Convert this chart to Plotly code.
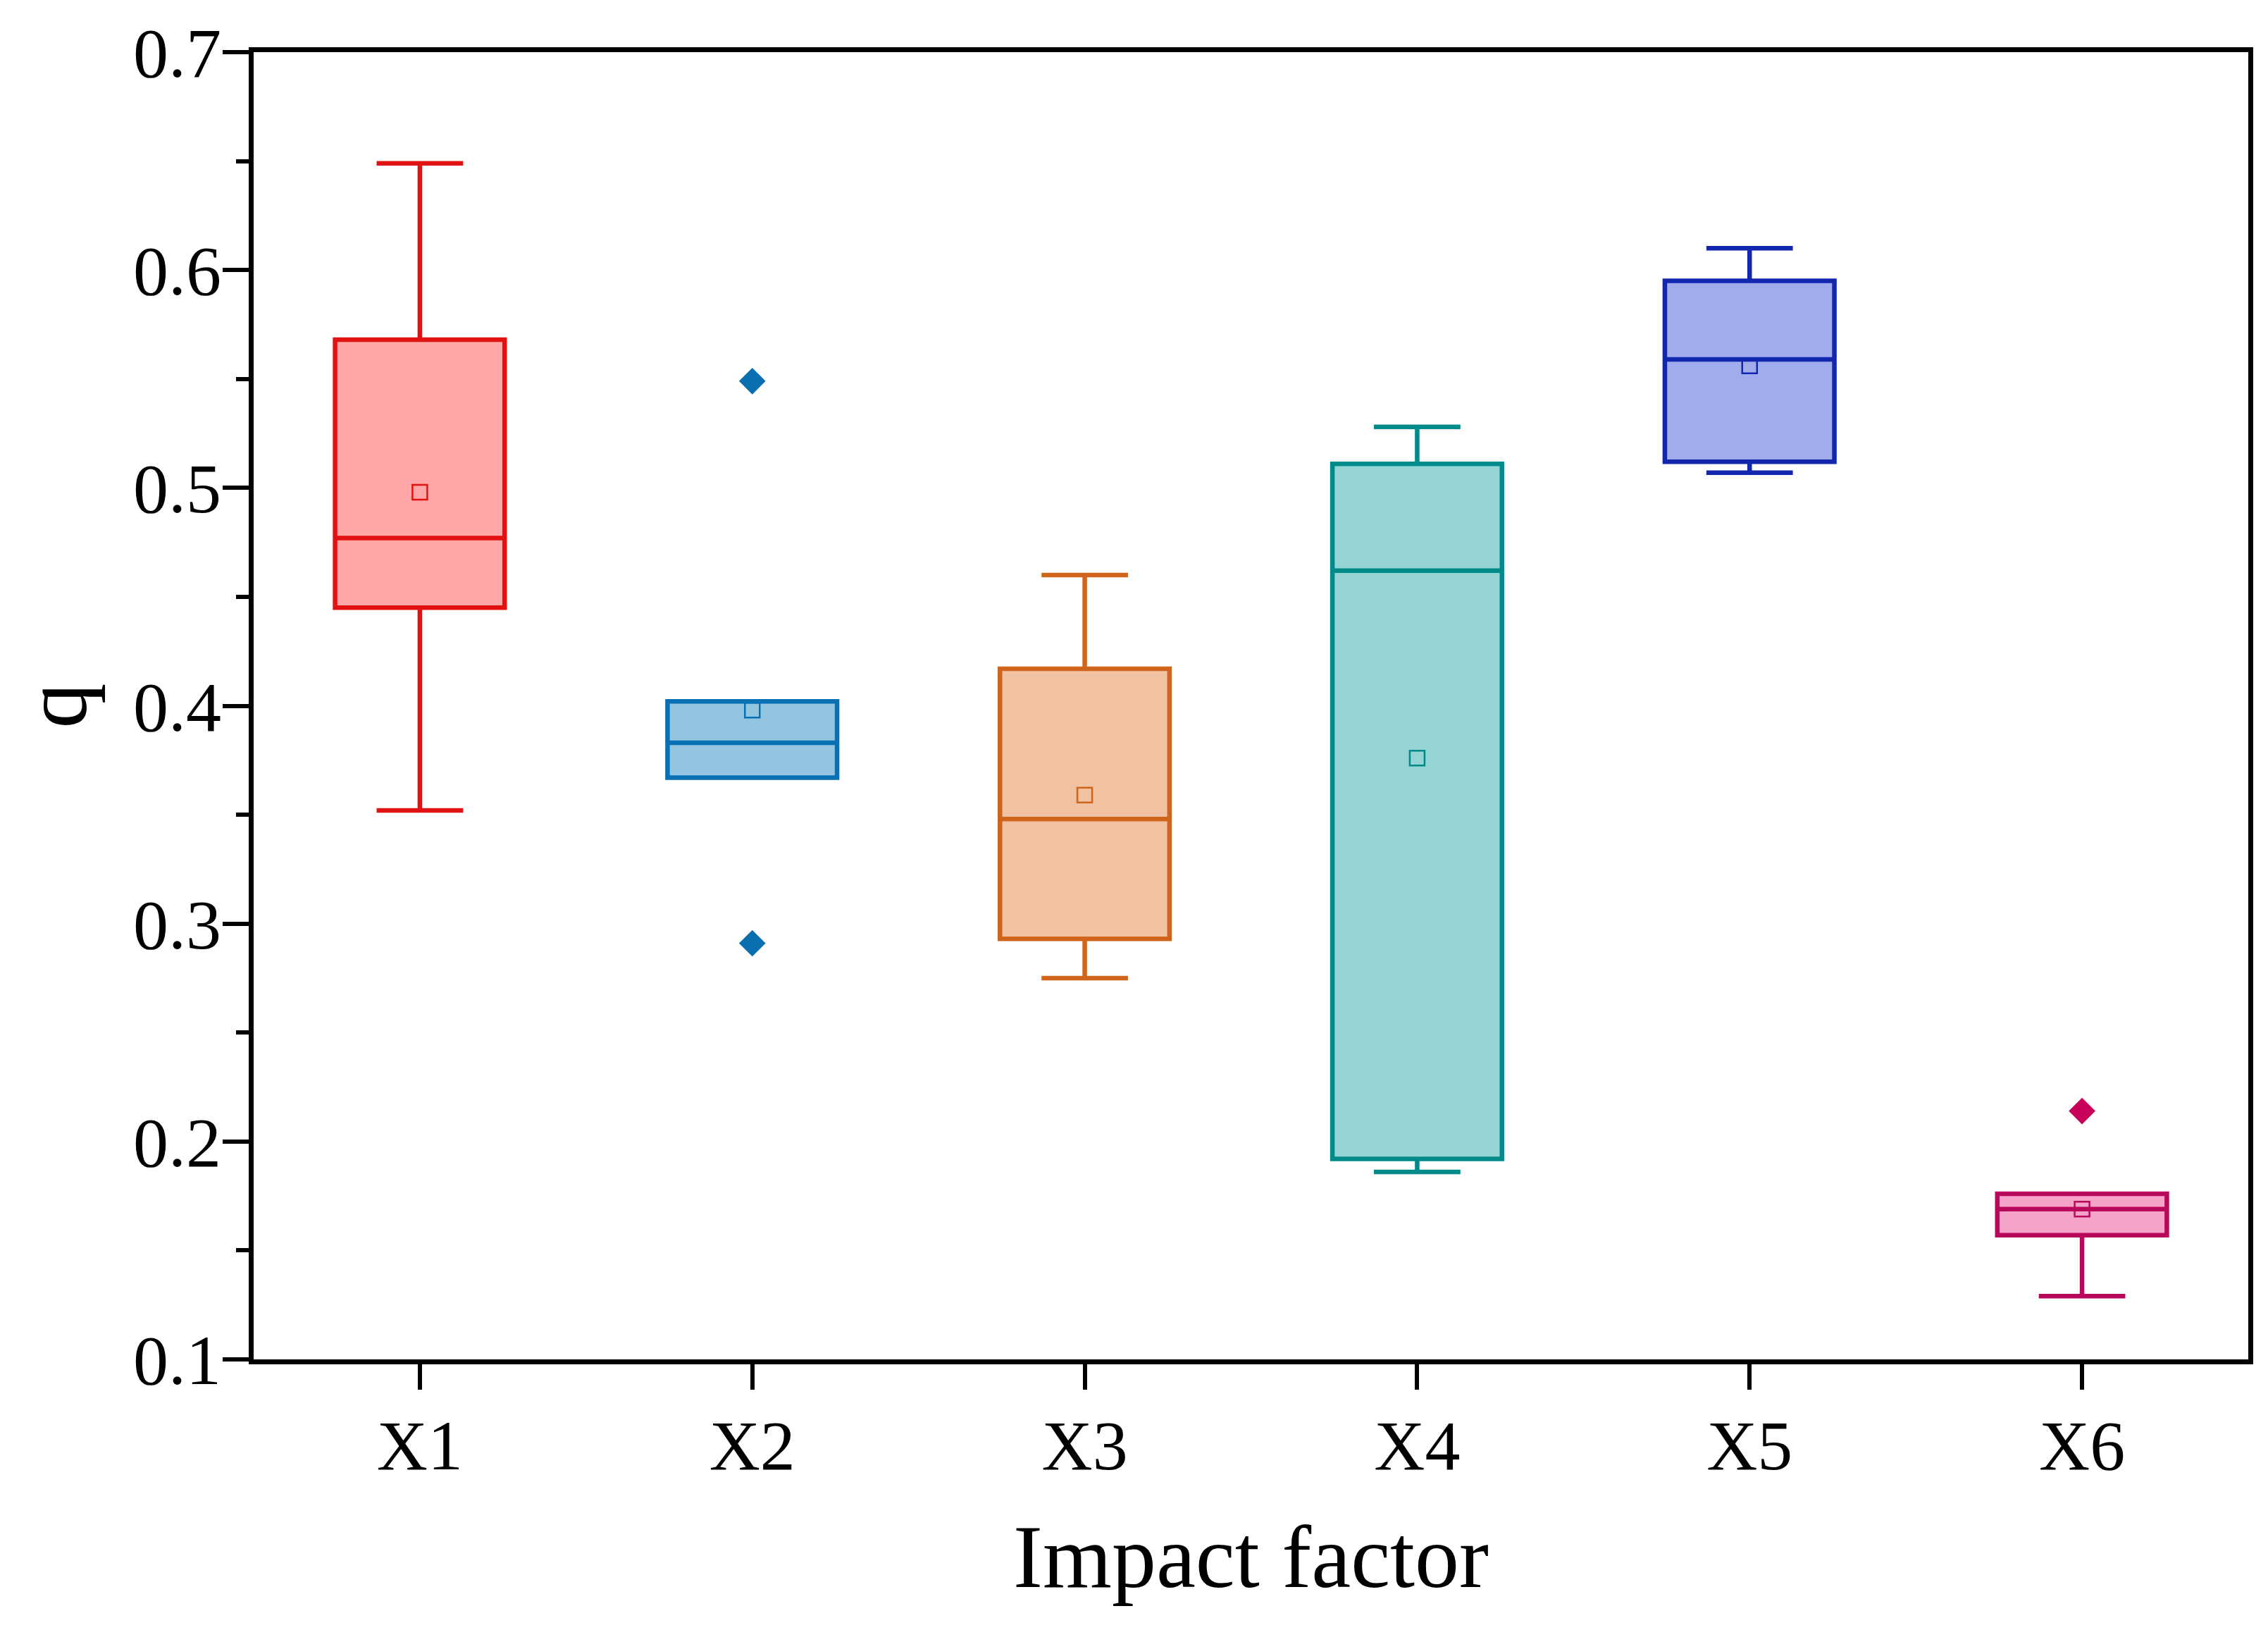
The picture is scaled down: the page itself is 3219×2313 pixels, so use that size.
import plotly.graph_objects as go

categories = ["X1", "X2", "X3", "X4", "X5", "X6"]
lower_whisker = [0.352, 0.367, 0.275, 0.186, 0.507, 0.129]
q1_vals = [0.445, 0.367, 0.293, 0.192, 0.512, 0.157]
median_vals = [0.477, 0.383, 0.348, 0.462, 0.559, 0.169]
q3_vals = [0.568, 0.402, 0.417, 0.511, 0.595, 0.176]
upper_whisker = [0.649, 0.402, 0.460, 0.528, 0.610, 0.176]
mean_vals = [0.498, 0.398, 0.359, 0.376, 0.556, 0.169]

outlier_cats = ["X2", "X2", "X6"]
outlier_vals = [0.549, 0.291, 0.214]

line_colors = ["#E31212", "#0A70B4", "#CF641C", "#008A8A", "#1226AE", "#B8085C"]
fill_colors = ["#FFA6A6", "#94C6E2", "#F0C2A2", "#94D4D4", "#A0ACEC", "#F5A2C8"]
outlier_colors = ["#0A6FAF", "#0A6FAF", "#C8005A"]

fig = go.Figure()

for i, cat in enumerate(categories):
    fig.add_trace(go.Box(
        x=[cat],
        q1=[q1_vals[i]],
        median=[median_vals[i]],
        q3=[q3_vals[i]],
        lowerfence=[lower_whisker[i]],
        upperfence=[upper_whisker[i]],
        boxpoints=False,
        width=0.51,
        whiskerwidth=0.51,
        fillcolor=fill_colors[i],
        line=dict(color=line_colors[i], width=6.5),
        showlegend=False,
        hoverinfo="skip",
    ))

fig.add_trace(go.Scatter(
    x=categories,
    y=mean_vals,
    mode="markers",
    marker=dict(symbol="square-open", size=21,
                color=line_colors, line=dict(width=2.5, color=line_colors)),
    showlegend=False,
    hoverinfo="skip",
))

fig.add_trace(go.Scatter(
    x=outlier_cats,
    y=outlier_vals,
    mode="markers",
    marker=dict(symbol="diamond", size=29, color=outlier_colors,
                line=dict(width=0)),
    showlegend=False,
    hoverinfo="skip",
))

font_family = "Liberation Serif"

fig.update_layout(
    width=3219,
    height=2313,
    paper_bgcolor="white",
    plot_bgcolor="white",
    boxmode="overlay",
    margin=dict(l=352, r=36, t=66, b=392, autoexpand=False),
    font=dict(family=font_family, color="black", size=100),
    xaxis=dict(
        type="category",
        categoryorder="array",
        categoryarray=categories,
        range=[-0.5, 5.5],
        showgrid=False,
        zeroline=False,
        showline=True,
        linecolor="black",
        linewidth=7,
        mirror=True,
        ticks="outside",
        ticklen=36,
        tickwidth=6,
        tickcolor="black",
        tickfont=dict(family=font_family, size=100, color="black"),
        ticklabelstandoff=-7,
        title=dict(text="Impact factor",
                   font=dict(family=font_family, size=126, color="black"),
                   standoff=60),
    ),
    yaxis=dict(
        range=[0.1, 0.7],
        dtick=0.1,
        tick0=0.1,
        tickformat=".1f",
        showgrid=False,
        zeroline=False,
        showline=True,
        linecolor="black",
        linewidth=7,
        mirror=True,
        ticks="outside",
        ticklen=37,
        tickwidth=6,
        tickcolor="black",
        tickfont=dict(family=font_family, size=100, color="black"),
        ticklabelstandoff=-18,
        minor=dict(dtick=0.05, ticks="outside", ticklen=18, tickwidth=6,
                   tickcolor="black", showgrid=False),
        title=dict(text="q",
                   font=dict(family=font_family, size=128, color="black"),
                   standoff=72),
    ),
)

fig.write_html("out.html")
